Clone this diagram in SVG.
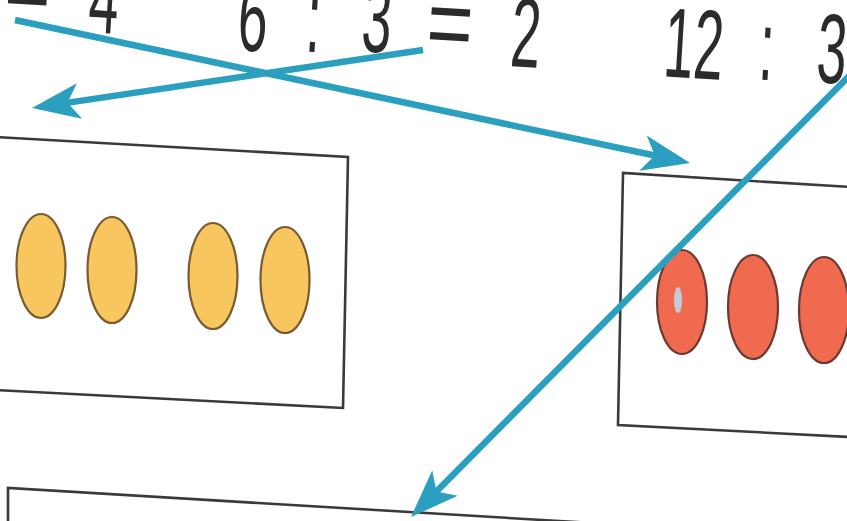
<svg xmlns="http://www.w3.org/2000/svg" width="847" height="521" viewBox="0 0 847 521">
<style>
.g{font-family:"Liberation Sans",Arial,sans-serif;font-size:99px;fill:#2b2b2b;text-anchor:middle}
.box{fill:none;stroke:#3a3a3a;stroke-width:2.6;stroke-linejoin:miter}
.y{fill:#f7c65f;stroke:#7a5a30;stroke-width:2.2}
.r{fill:#f06a4f;stroke:#6a3a30;stroke-width:2.2}
.ln{stroke:#2a9fbf;stroke-width:6.5;fill:none;stroke-linecap:butt}
.ah{fill:#2a9fbf}
</style>
<defs>
<path id="ah" d="M0,0 L-48,-18 L-36,0 L-48,18 Z"/>
</defs>
<rect width="847" height="521" fill="#ffffff"/>
<g id="equations">
<text class="g" transform="translate(26,21) rotate(3.5) scale(0.8,1)">=</text>
<text class="g" transform="translate(102,33) rotate(3.5) scale(0.54,1)">4</text>
<text class="g" transform="translate(251,51) rotate(3.5) scale(0.54,1)">6</text>
<text class="g" transform="translate(312,52) rotate(3.5) scale(0.54,1)">:</text>
<text class="g" transform="translate(375,52) rotate(3.5) scale(0.54,1)">3</text>
<text class="g" transform="translate(448,57) rotate(3.5) scale(0.8,1)">=</text>
<text class="g" transform="translate(524,67) rotate(3.5) scale(0.54,1)">2</text>
<text class="g" transform="translate(692,78) rotate(3.5) scale(0.54,1)">12</text>
<text class="g" transform="translate(765,80) rotate(3.5) scale(0.54,1)">:</text>
<text class="g" transform="translate(830,83) rotate(3.5) scale(0.54,1)">3</text>
</g>
<g id="box-yellow">
<path class="box" d="M-5,137 L348,157 L343,408 L-5,390"/>
<ellipse class="y" cx="41" cy="266" rx="24.5" ry="52"/>
<ellipse class="y" cx="112" cy="270" rx="24.5" ry="53"/>
<ellipse class="y" cx="213" cy="276" rx="24.5" ry="53"/>
<ellipse class="y" cx="285" cy="280" rx="24.5" ry="53"/>
</g>
<g id="box-red">
<path class="box" d="M850,187 L623,173 L618,425 L850,437"/>
<ellipse class="r" cx="682" cy="302" rx="25" ry="52"/>
<ellipse cx="678" cy="300" rx="4" ry="13" fill="#c4ccd8"/>
<ellipse class="r" cx="753" cy="307" rx="25" ry="52"/>
<ellipse class="r" cx="824" cy="310" rx="25" ry="53"/>
</g>
<g id="box-bottom">
<path class="box" d="M8,530 L8,488 L860,539"/>
</g>
<g id="connectors">
<line class="ln" x1="15" y1="20" x2="660.7" y2="156.8"/>
<use href="#ah" class="ah" transform="translate(690,163) rotate(11.96)"/>
<line class="ln" x1="423" y1="50" x2="61.7" y2="103.6"/>
<use href="#ah" class="ah" transform="translate(32,108) rotate(171.56)"/>
<line class="ln" x1="850" y1="75" x2="432.2" y2="495.8"/>
<use href="#ah" class="ah" transform="translate(411,517) rotate(135.07)"/>
</g>
</svg>
